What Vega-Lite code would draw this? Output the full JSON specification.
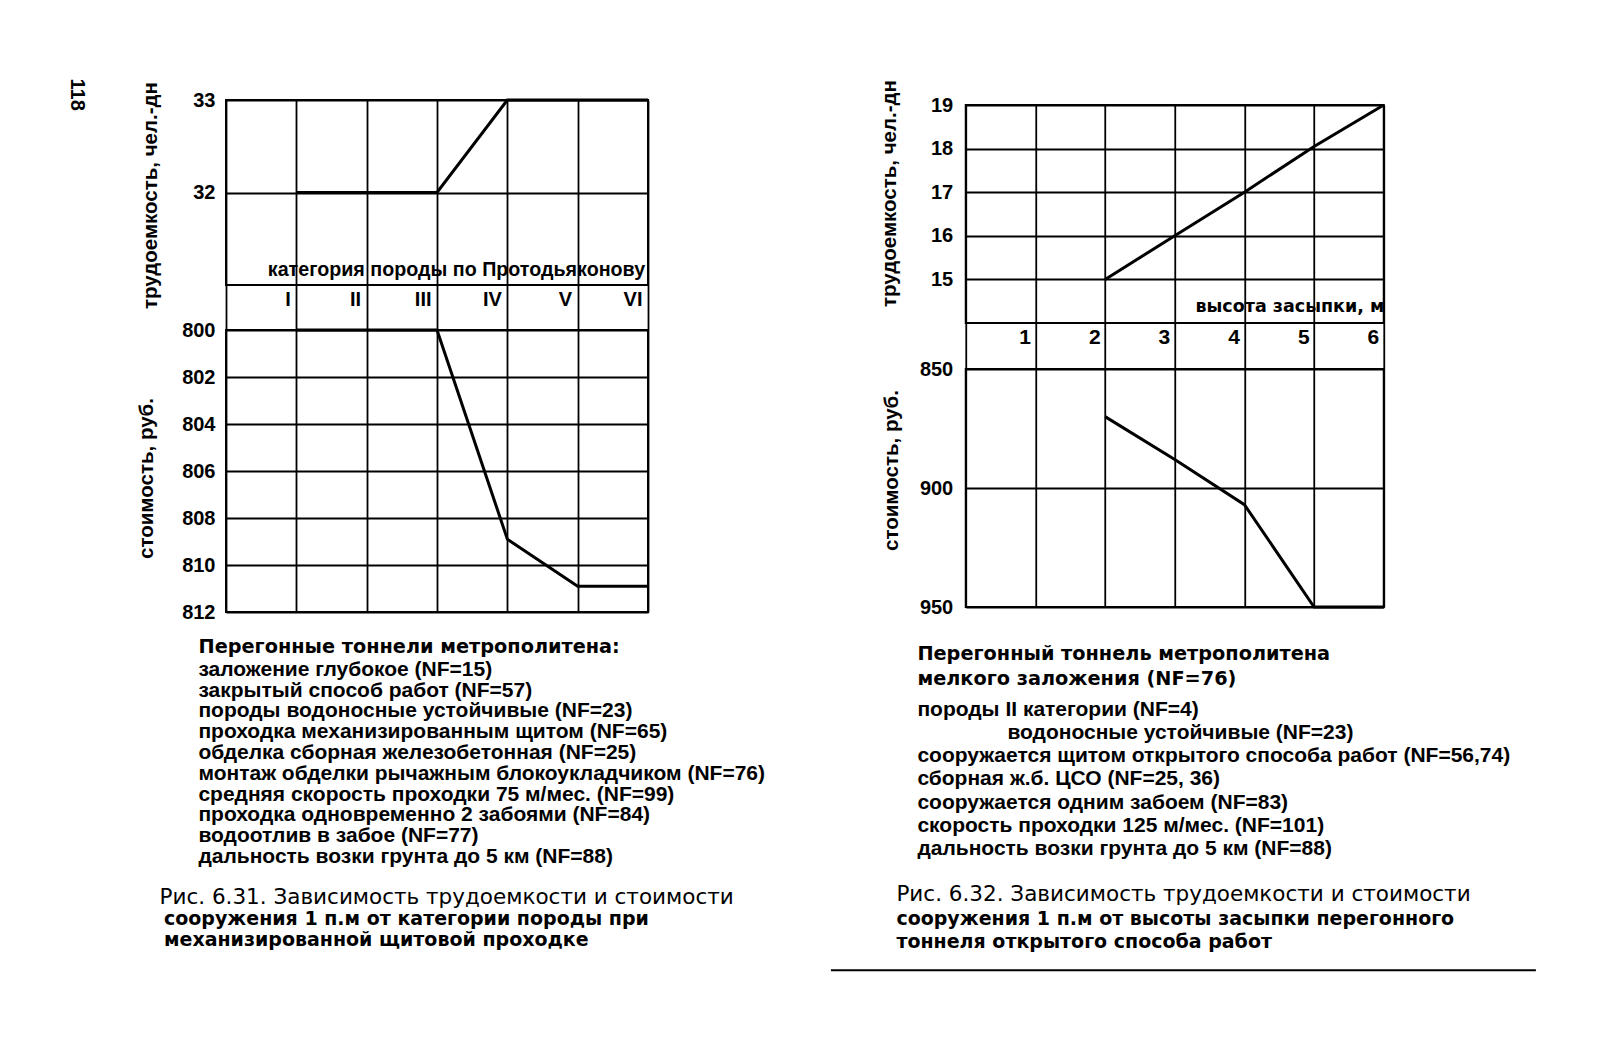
{
  "$schema": "https://vega.github.io/schema/vega-lite/v6.json",
  "background": "white",
  "padding": {"left": 67, "top": 78, "right": 5, "bottom": 5},
  "title": {"text": "118", "orient": "left", "anchor": "end", "angle": 90, "align": "left", "font": "Liberation Sans", "fontSize": 20, "fontWeight": "bold", "color": "black", "offset": 28},
  "config": {
    "view": {"stroke": "black", "strokeWidth": 2},
    "font": "Liberation Sans",
    "axis": {
      "labelColor": "black", "titleColor": "black",
      "gridColor": "black", "gridOpacity": 1, "gridWidth": 1.8,
      "domain": false, "ticks": false,
      "labelFont": "Liberation Sans", "labelFontWeight": "bold", "labelFontSize": 20,
      "titleFont": "Liberation Sans", "titleFontWeight": "bold", "titleFontSize": 20.5,
      "labelFlush": false, "labelOverlap": false
    }
  },
  "spacing": 14.7,
  "vconcat": [
    {
      "spacing": 222.75,
      "center": true,
      "hconcat": [
        {
          "bounds": "flush",
          "spacing": 45,
          "vconcat": [
            {
              "width": 422, "height": 185,
              "data": {"values": [
                {"category": 1, "labor": 32}, {"category": 2, "labor": 32}, {"category": 3, "labor": 32},
                {"category": 4, "labor": 33}, {"category": 5, "labor": 33}, {"category": 6, "labor": 33}
              ]},
              "mark": {"type": "line", "color": "black", "strokeWidth": 3},
              "encoding": {
                "x": {"field": "category", "type": "quantitative", "scale": {"domain": [0, 6], "nice": false, "zero": false},
                  "axis": {"values": [0, 1, 2, 3, 4, 5, 6], "grid": true, "ticks": true, "tickSize": 45, "tickColor": "black", "tickWidth": 1.8,
                    "labelExpr": "['', 'I', 'II', 'III', 'IV', 'V', 'VI'][datum.value]",
                    "labelAlign": "right", "labelBaseline": "top", "labelOffset": -6, "labelPadding": -41, "labelFontSize": 20,
                    "title": "категория породы по Протодьяконову", "titleX": 230, "titleAlign": "center", "titleY": -10, "titleBaseline": "alphabetic", "titleFontSize": 19.7}},
                "y": {"field": "labor", "type": "quantitative", "scale": {"domain": [31, 33], "nice": false, "zero": false},
                  "axis": {"values": [32, 33], "grid": true, "labelPadding": 11,
                    "title": "трудоемкость, чел.-дн", "titleX": -76, "titleY": 95, "titleBaseline": "middle", "titleAlign": "center"}}
              }
            },
            {
              "width": 422, "height": 282,
              "data": {"values": [
                {"category": 1, "cost": 800}, {"category": 2, "cost": 800}, {"category": 3, "cost": 800},
                {"category": 4, "cost": 808.9}, {"category": 5, "cost": 810.9}, {"category": 6, "cost": 810.9}
              ]},
              "mark": {"type": "line", "color": "black", "strokeWidth": 3},
              "encoding": {
                "x": {"field": "category", "type": "quantitative", "scale": {"domain": [0, 6], "nice": false, "zero": false},
                  "axis": {"values": [0, 1, 2, 3, 4, 5, 6], "grid": true, "labels": false, "ticks": false, "title": null}},
                "y": {"field": "cost", "type": "quantitative", "scale": {"domain": [800, 812], "reverse": true, "nice": false, "zero": false},
                  "axis": {"values": [800, 802, 804, 806, 808, 810, 812], "grid": true, "labelPadding": 11,
                    "title": "стоимость, руб.", "titleX": -80, "titleY": 148, "titleBaseline": "middle", "titleAlign": "center"}}
              }
            }
          ]
        },
        {
          "bounds": "flush",
          "spacing": 46,
          "vconcat": [
            {
              "width": 418, "height": 218,
              "data": {"values": [
                {"fill": 2, "labor": 15}, {"fill": 3, "labor": 16}, {"fill": 4, "labor": 17},
                {"fill": 5, "labor": 18.05}, {"fill": 6, "labor": 19}
              ]},
              "mark": {"type": "line", "color": "black", "strokeWidth": 3},
              "encoding": {
                "x": {"field": "fill", "type": "quantitative", "scale": {"domain": [0, 6], "nice": false, "zero": false},
                  "axis": {"values": [0, 1, 2, 3, 4, 5, 6], "grid": true, "ticks": true, "tickSize": 46, "tickColor": "black", "tickWidth": 1.8,
                    "labelExpr": "datum.value == 0 ? '' : datum.label",
                    "labelAlign": "right", "labelBaseline": "top", "labelOffset": -5, "labelPadding": -43, "labelFontSize": 21,
                    "title": "высота засыпки, м", "titleAnchor": "end", "titleY": -12, "titleBaseline": "alphabetic",
                    "titleFont": "DejaVu Sans", "titleFontSize": 17.5}},
                "y": {"field": "labor", "type": "quantitative", "scale": {"domain": [14, 19], "nice": false, "zero": false},
                  "axis": {"values": [15, 16, 17, 18, 19], "grid": true, "labelPadding": 13,
                    "title": "трудоемкость, чел.-дн", "titleX": -76, "titleY": 88, "titleBaseline": "middle", "titleAlign": "center"}}
              }
            },
            {
              "width": 418, "height": 238,
              "data": {"values": [
                {"fill": 2, "cost": 870}, {"fill": 3, "cost": 888}, {"fill": 4, "cost": 907},
                {"fill": 5, "cost": 950}, {"fill": 6, "cost": 950}
              ]},
              "mark": {"type": "line", "color": "black", "strokeWidth": 3},
              "encoding": {
                "x": {"field": "fill", "type": "quantitative", "scale": {"domain": [0, 6], "nice": false, "zero": false},
                  "axis": {"values": [0, 1, 2, 3, 4, 5, 6], "grid": true, "labels": false, "ticks": false, "title": null}},
                "y": {"field": "cost", "type": "quantitative", "scale": {"domain": [850, 950], "reverse": true, "nice": false, "zero": false},
                  "axis": {"values": [850, 900, 950], "grid": true, "labelPadding": 13,
                    "title": "стоимость, руб.", "titleX": -74, "titleY": 101, "titleBaseline": "middle", "titleAlign": "center"}}
              }
            }
          ]
        }
      ]
    },
    {
      "spacing": 44.4,
      "hconcat": [
        {
          "width": 560, "height": 288.4,
          "view": {"stroke": null},
          "title": {"text": "Перегонные тоннели метрополитена:", "anchor": "start", "orient": "top", "offset": 1, "dx": 39,
            "font": "DejaVu Sans", "fontSize": 19.3, "fontWeight": "bold", "color": "black"},
          "data": {"values": [
            {"k": 0, "kind": "item", "part": 0, "text": "заложение глубокое (NF=15)"},
            {"k": 1, "kind": "item", "part": 0, "text": "закрытый способ работ (NF=57)"},
            {"k": 2, "kind": "item", "part": 0, "text": "породы водоносные устойчивые (NF=23)"},
            {"k": 3, "kind": "item", "part": 0, "text": "проходка механизированным щитом (NF=65)"},
            {"k": 4, "kind": "item", "part": 0, "text": "обделка сборная железобетонная (NF=25)"},
            {"k": 5, "kind": "item", "part": 0, "text": "монтаж обделки рычажным блокоукладчиком (NF=76)"},
            {"k": 6, "kind": "item", "part": 0, "text": "средняя скорость проходки 75 м/мес. (NF=99)"},
            {"k": 7, "kind": "item", "part": 0, "text": "проходка одновременно 2 забоями (NF=84)"},
            {"k": 8, "kind": "item", "part": 0, "text": "водоотлив в забое (NF=77)"},
            {"k": 9, "kind": "item", "part": 0, "text": "дальность возки грунта до 5 км (NF=88)"},
            {"k": 11, "kind": "caption", "part": 1, "text": "Рис. 6.31. Зависимость трудоемкости и стоимости"},
            {"k": 12, "kind": "caption", "part": 2, "text": "сооружения 1 п.м от категории породы при"},
            {"k": 13, "kind": "caption", "part": 3, "text": "механизированной щитовой проходке"}
          ]},
          "encoding": {
            "y": {"field": "k", "type": "ordinal", "scale": {"type": "point", "domain": [0, 1, 2, 3, 4, 5, 6, 7, 8, 9, 10, 11, 12, 13], "padding": 0.433}, "axis": null},
            "x": {"datum": 0, "type": "quantitative", "scale": {"domain": [0, 1]}, "axis": null},
            "text": {"field": "text"}
          },
          "layer": [
            {"transform": [{"filter": "datum.kind == 'item'"}],
             "mark": {"type": "text", "align": "left", "baseline": "middle", "dx": -27.6, "font": "Liberation Sans", "fontSize": 21, "fontWeight": "bold", "color": "black"}},
            {"transform": [{"filter": "datum.kind == 'caption' && datum.part == 1"}],
             "mark": {"type": "text", "align": "left", "baseline": "middle", "dx": -66.5, "font": "DejaVu Sans", "fontSize": 21.5, "fontWeight": "normal", "color": "black"}},
            {"transform": [{"filter": "datum.kind == 'caption' && datum.part > 1"}],
             "mark": {"type": "text", "align": "left", "baseline": "middle", "dx": -62, "font": "DejaVu Sans", "fontSize": 19, "fontWeight": "bold", "color": "black"}}
          ]
        },
        {
          "width": 705, "height": 283.6,
          "view": {"stroke": null},
          "title": {"text": ["Перегонный тоннель метрополитена", "мелкого заложения (NF=76)"], "anchor": "start", "orient": "top", "offset": -29, "dx": 87, "lineHeight": 25,
            "font": "DejaVu Sans", "fontSize": 19.3, "fontWeight": "bold", "color": "black"},
          "data": {"values": [
            {"k": 0, "kind": "item", "level": 1, "part": 0, "text": "породы II категории (NF=4)"},
            {"k": 1, "kind": "item", "level": 2, "part": 0, "text": "водоносные устойчивые (NF=23)"},
            {"k": 2, "kind": "item", "level": 1, "part": 0, "text": "сооружается щитом открытого способа работ (NF=56,74)"},
            {"k": 3, "kind": "item", "level": 1, "part": 0, "text": "сборная ж.б. ЦСО (NF=25, 36)"},
            {"k": 4, "kind": "item", "level": 1, "part": 0, "text": "сооружается одним забоем (NF=83)"},
            {"k": 5, "kind": "item", "level": 1, "part": 0, "text": "скорость проходки 125 м/мес. (NF=101)"},
            {"k": 6, "kind": "item", "level": 1, "part": 0, "text": "дальность возки грунта до 5 км (NF=88)"},
            {"k": 8, "kind": "caption", "level": 0, "part": 1, "text": "Рис. 6.32. Зависимость трудоемкости и стоимости"},
            {"k": 9, "kind": "caption", "level": 0, "part": 2, "text": "сооружения 1 п.м от высоты засыпки перегонного"},
            {"k": 10, "kind": "caption", "level": 0, "part": 3, "text": "тоннеля открытого способа работ"}
          ]},
          "encoding": {
            "y": {"field": "k", "type": "ordinal", "scale": {"type": "point", "domain": [-2, -1, 0, 1, 2, 3, 4, 5, 6, 7, 8, 9, 10], "padding": 0.112}, "axis": null},
            "x": {"datum": 0, "type": "quantitative", "scale": {"domain": [0, 1]},
              "axis": {"orient": "bottom", "domain": true, "domainColor": "black", "domainWidth": 2, "labels": false, "ticks": false, "grid": false, "title": null, "offset": 25.4}},
            "text": {"field": "text"}
          },
          "layer": [
            {"transform": [{"filter": "datum.kind == 'item' && datum.level == 1"}],
             "mark": {"type": "text", "align": "left", "baseline": "middle", "dx": 87, "font": "Liberation Sans", "fontSize": 21, "fontWeight": "bold", "color": "black"}},
            {"transform": [{"filter": "datum.kind == 'item' && datum.level == 2"}],
             "mark": {"type": "text", "align": "left", "baseline": "middle", "dx": 177, "font": "Liberation Sans", "fontSize": 21, "fontWeight": "bold", "color": "black"}},
            {"transform": [{"filter": "datum.kind == 'caption' && datum.part == 1"}],
             "mark": {"type": "text", "align": "left", "baseline": "middle", "dx": 66, "font": "DejaVu Sans", "fontSize": 21.5, "fontWeight": "normal", "color": "black"}},
            {"transform": [{"filter": "datum.kind == 'caption' && datum.part > 1"}],
             "mark": {"type": "text", "align": "left", "baseline": "middle", "dx": 66, "font": "DejaVu Sans", "fontSize": 19, "fontWeight": "bold", "color": "black"}}
          ]
        }
      ]
    }
  ]
}
